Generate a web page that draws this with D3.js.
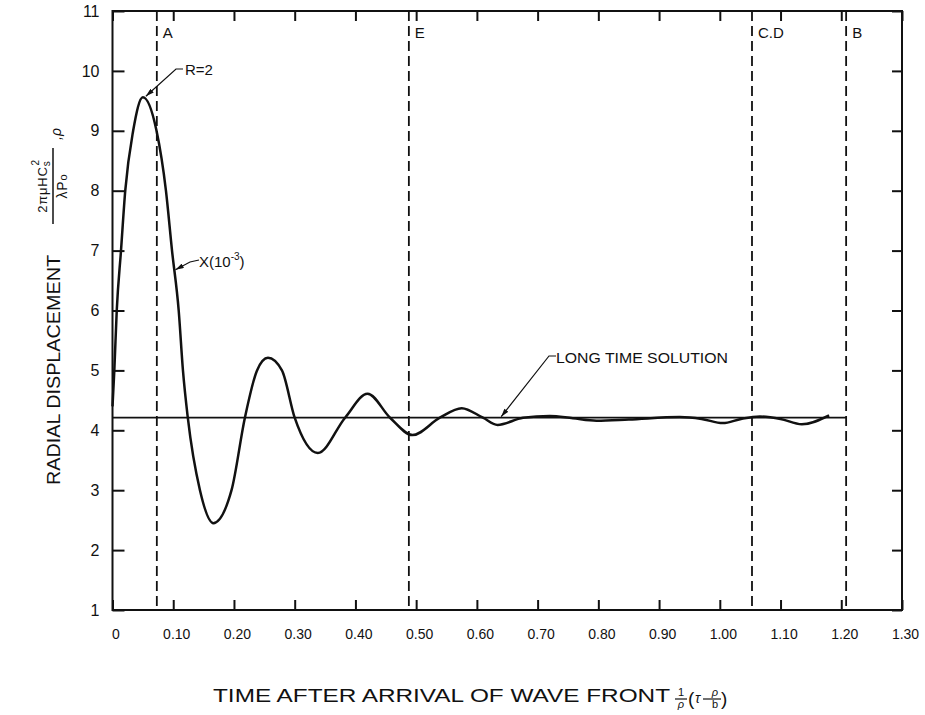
<!DOCTYPE html>
<html>
<head>
<meta charset="utf-8">
<script src="https://cdn.jsdelivr.net/npm/d3@7"></script>
<style>
  body { margin: 0; background: #fff; }
  text { font-family: "Liberation Sans", Arial, sans-serif; fill: #111; }
</style>
</head>
<body>
<svg id="chart" width="925" height="715"></svg>
<script>
// curve: time after wave front vs radial displacement
const timeVals = [0, 0.003, 0.007, 0.014, 0.021, 0.034, 0.05, 0.0725, 0.088, 0.098, 0.109, 0.116, 0.124,
  0.144, 0.166, 0.196, 0.218, 0.238, 0.256, 0.279, 0.300, 0.338, 0.383, 0.42, 0.457, 0.494, 0.539,
  0.575, 0.61, 0.634, 0.676, 0.72, 0.758, 0.797, 0.85, 0.934, 0.97, 1.005, 1.035, 1.066, 1.10, 1.135, 1.18];
const dispVals = [4.4, 5.0, 6.0, 7.0, 8.0, 9.0, 9.56, 9.0, 8.0, 7.0, 6.0, 5.0, 4.21,
  3.0, 2.45, 3.0, 4.21, 5.0, 5.21, 5.0, 4.21, 3.62, 4.21, 4.61, 4.21, 3.92, 4.21,
  4.37, 4.21, 4.09, 4.21, 4.24, 4.2, 4.16, 4.18, 4.22, 4.19, 4.12, 4.19, 4.23, 4.19, 4.10, 4.25];

const longTimeValue = 4.21;
const longTimeEnd = 1.208;

const xTickVals = [0, 0.1, 0.2, 0.3, 0.4, 0.5, 0.6, 0.7, 0.8, 0.9, 1.0, 1.1, 1.2, 1.3];
const xTickLabels = ["0", "0.10", "0.20", "0.30", "0.40", "0.50", "0.60", "0.70", "0.80", "0.90", "1.00", "1.10", "1.20", "1.30"];
const yTickVals = [1, 2, 3, 4, 5, 6, 7, 8, 9, 10, 11];

const eventNames = ["A", "E", "C.D", "B"];
const eventTimes = [0.073, 0.488, 1.053, 1.208];

const svg = d3.select("#chart");
const x = d3.scaleLinear().domain([0, 1.3]).range([112.5, 902]);
const y = d3.scaleLinear().domain([1, 11]).range([610, 11]);

// axes, ticks pointing inward
const styleAxis = g => {
  g.select(".domain").remove();
  g.selectAll(".tick line").attr("stroke", "#111").attr("stroke-width", 2);
};

svg.append("g")
  .attr("transform", `translate(0,${y(1)})`)
  .call(d3.axisBottom(x).tickValues(xTickVals).tickFormat((d, i) => xTickLabels[i]).tickSize(-10).tickPadding(19))
  .call(styleAxis)
  .call(g => g.selectAll(".tick text").attr("font-size", 14).attr("dx", 3).attr("font-family", "Liberation Sans, Arial, sans-serif"));

svg.append("g")
  .attr("transform", `translate(0,${y(11)})`)
  .call(d3.axisTop(x).tickValues(xTickVals).tickFormat("").tickSize(-10))
  .call(styleAxis);

svg.append("g")
  .attr("transform", `translate(${x(0)},0)`)
  .call(d3.axisLeft(y).tickValues(yTickVals).tickSize(-12).tickPadding(13))
  .call(styleAxis)
  .call(g => g.selectAll(".tick text").attr("font-size", 16).attr("font-family", "Liberation Sans, Arial, sans-serif"));

svg.append("g")
  .attr("transform", `translate(${x(1.3)},0)`)
  .call(d3.axisRight(y).tickValues(yTickVals).tickFormat("").tickSize(-10))
  .call(styleAxis);

// frame
svg.append("rect")
  .attr("x", x(0)).attr("y", y(11))
  .attr("width", x(1.3) - x(0)).attr("height", y(1) - y(11))
  .attr("fill", "none").attr("stroke", "#111").attr("stroke-width", 2);

// dashed event lines
svg.selectAll(".event")
  .data(eventTimes)
  .enter()
  .append("line")
  .attr("class", "event")
  .attr("x1", d => x(d)).attr("x2", d => x(d))
  .attr("y1", y(11)).attr("y2", y(1))
  .attr("stroke", "#111").attr("stroke-width", 1.8)
  .attr("stroke-dasharray", "10,5");

svg.selectAll(".event-label")
  .data(eventNames)
  .enter()
  .append("text")
  .attr("class", "event-label")
  .attr("x", (d, i) => x(eventTimes[i]) + 6)
  .attr("y", 38)
  .attr("font-size", 15)
  .text(d => d);

// long time solution
svg.append("line")
  .attr("x1", x(0)).attr("x2", x(longTimeEnd))
  .attr("y1", y(longTimeValue)).attr("y2", y(longTimeValue))
  .attr("stroke", "#111").attr("stroke-width", 1.8);

// displacement curve
const pts = timeVals.map((t, i) => [t, dispVals[i]]);
const line = d3.line().x(d => x(d[0])).y(d => y(d[1])).curve(d3.curveMonotoneX);
svg.append("path")
  .datum(pts)
  .attr("d", line)
  .attr("fill", "none").attr("stroke", "#111").attr("stroke-width", 2.5);

// leader arrows
svg.append("defs").append("marker")
  .attr("id", "arrow")
  .attr("viewBox", "0 0 10 6")
  .attr("refX", 10).attr("refY", 3)
  .attr("markerWidth", 9).attr("markerHeight", 5)
  .attr("markerUnits", "userSpaceOnUse")
  .attr("orient", "auto")
  .append("path").attr("d", "M0,0 L10,3 L0,6 Z").attr("fill", "#111");

const leader = (pts) => svg.append("path")
  .attr("d", d3.line()(pts))
  .attr("fill", "none").attr("stroke", "#111").attr("stroke-width", 1.2)
  .attr("marker-end", "url(#arrow)");

leader([[183, 69], [176, 69], [x(0.05) + 3, y(9.56) - 1]]);
svg.append("text").attr("x", 185).attr("y", 75).attr("font-size", 15).text("R=2");

leader([[199, 260], [190, 262], [x(0.102) + 1, y(6.68)]]);
const xl = svg.append("text").attr("x", 199).attr("y", 267).attr("font-size", 15);
xl.append("tspan").text("X(10");
xl.append("tspan").attr("font-size", 10).attr("dy", -7).text("-3");
xl.append("tspan").attr("dy", 7).text(")");

leader([[556, 356], [549, 356], [x(0.64), y(longTimeValue) - 1]]);
svg.append("text").attr("x", 556).attr("y", 363).attr("font-size", 15)
  .attr("textLength", 172).attr("lengthAdjust", "spacingAndGlyphs").text("LONG TIME SOLUTION");

// y axis title
svg.append("text")
  .attr("transform", "translate(60,370) rotate(-90)")
  .attr("text-anchor", "middle")
  .attr("font-size", 19)
  .attr("textLength", 230).attr("lengthAdjust", "spacingAndGlyphs")
  .text("RADIAL DISPLACEMENT");

const frac = svg.append("g").attr("transform", "translate(53,186) rotate(-90)");
frac.append("line").attr("x1", -38).attr("x2", 38).attr("y1", 0).attr("y2", 0)
  .attr("stroke", "#111").attr("stroke-width", 1.5);
const num = frac.append("text").attr("x", 0).attr("y", -6).attr("text-anchor", "middle").attr("font-size", 13).attr("letter-spacing", 0.8);
num.append("tspan").text("2πμHC");
num.append("tspan").attr("font-size", 10).attr("dy", 3).text("s");
num.append("tspan").attr("font-size", 10).attr("dy", -11).attr("dx", -5).text("2");
const den = frac.append("text").attr("x", 0).attr("y", 14).attr("text-anchor", "middle").attr("font-size", 14).attr("letter-spacing", 0.8);
den.append("tspan").text("λP");
den.append("tspan").attr("font-size", 11).text("o");
frac.append("text").attr("x", 52).attr("y", 8).attr("text-anchor", "middle").attr("font-size", 14)
  .attr("font-style", "italic").text(",ρ");

// x axis title
svg.append("text")
  .attr("x", 213).attr("y", 702)
  .attr("font-size", 19)
  .attr("textLength", 457).attr("lengthAdjust", "spacingAndGlyphs")
  .text("TIME AFTER ARRIVAL OF WAVE FRONT");
const smallFrac = (cx, top, bottom) => {
  svg.append("text").attr("x", cx).attr("y", 696).attr("text-anchor", "middle").attr("font-size", 11).attr("font-style", top === "ρ" ? "italic" : "normal").text(top);
  svg.append("line").attr("x1", cx - 6).attr("x2", cx + 6).attr("y1", 699).attr("y2", 699).attr("stroke", "#111").attr("stroke-width", 1.2);
  svg.append("text").attr("x", cx).attr("y", 708).attr("text-anchor", "middle").attr("font-size", 11).attr("font-style", bottom === "ρ" ? "italic" : "normal").text(bottom);
};
smallFrac(681, "1", "ρ");
svg.append("text").attr("x", 688).attr("y", 705).attr("font-size", 19).text("(");
svg.append("text").attr("x", 695).attr("y", 703).attr("font-size", 14).attr("font-style", "italic").text("τ");
svg.append("line").attr("x1", 703).attr("x2", 709).attr("y1", 699).attr("y2", 699).attr("stroke", "#111").attr("stroke-width", 1.2);
smallFrac(715, "ρ", "b");
svg.append("text").attr("x", 721).attr("y", 705).attr("font-size", 19).text(")");
</script>
</body>
</html>
